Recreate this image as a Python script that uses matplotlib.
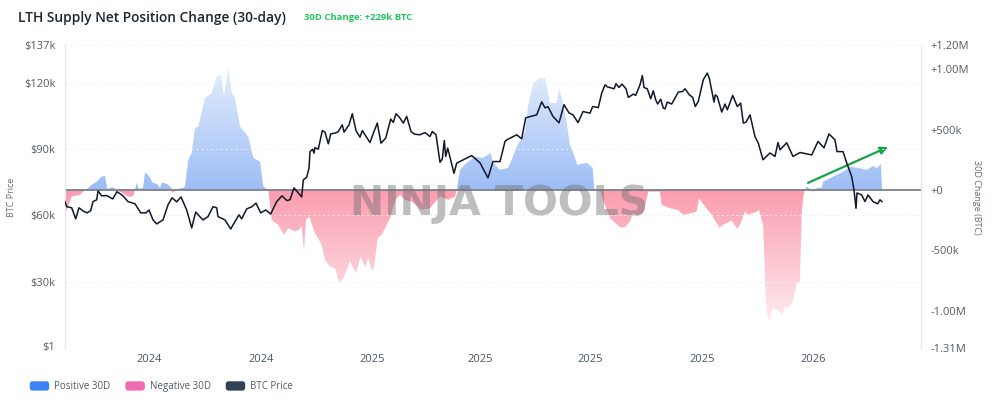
import numpy as np
import matplotlib
matplotlib.use("Agg")
import matplotlib.pyplot as plt
import matplotlib.patches as mpatches
from matplotlib.colors import LinearSegmentedColormap
from matplotlib.legend_handler import HandlerPatch

plt.rcParams['font.family'] = ['Open Sans', 'DejaVu Sans']

# Time position along the chart (chart units, start of series = 0)
price_t = [0,1.7,6.7,10.7,14,18,22,25.7,28,31.7,
           33,36.7,41.7,47.7,52,58,63,70,75.7,81,
           84,88,91.7,98,103,107,111.7,116,121.7,126.7,
           130.7,135,138,143,148,151.7,153,160,165.7,170,
           174,176.7,181.7,187,191,195.7,200.7,205.7,211.7,217,
           221.7,225,229,236.7,
           238.3,241.7,244,245,247.7,249,250,253.3,257.3,260,
           263.3,265.7,270,273,277.3,279,281.7,284,287.3,291,
           295,297.3,305,309,312.3,316,320.7,325.7,328.3,331,
           334.3,338.3,341.7,346,349.3,355,360,365,367.3,371,
           375,377.3,379.3,380.7,382.7,389,391.7,
           406.7,415,423,428,435,440,441.7,451.7,456.7,460.7,
           471.7,476.7,480,483,488,494,499,504,508,513,518,
           525,527.7,533.3,536.7,540,542.3,549,551,554,557,
           561,563.3,568.3,570.7,575,577.3,579,582.3,585.7,588.3,
           590.7,592.7,595.7,598.3,600,602.3,606.7,613.3,617.7,620,
           624.3,627.7,630.3,633.3,638.3,642.3,644.3,649,650.3,652.3,
           656.7,660,662.3,667.7,672.3,675.7,678.3,681,685,690,693.3,
           698,705,710,713,715,721.7,728,735,746.7,753,759,764,
           770,772,778,781.7,786.7,789,790.7,791,792,796.7,
           800,803,808,812.7,815,817]
price_k = [66.2,63.9,63.4,58.4,63.4,62,61.1,62.1,66.2,67,
           71,68.8,68.9,67.4,70.7,68.8,66.2,65.2,61.1,61.1,
           62.4,57.9,56.1,57.9,64.7,67.9,66.1,68.3,62.4,54.3,
           61.5,59.3,57.9,59.4,63.9,63.4,59.4,57.9,53.8,57.2,
           60.2,58.4,62.9,63.9,65.5,61.1,62.4,60.6,66.2,68.8,
           66.7,67,72.4,68.3,
           76,77.2,81.3,88.8,89.9,88.1,90.6,89.9,98.3,97.6,
           92.3,96.8,97.2,97.7,100.9,97.6,99.4,100.9,105.9,98.3,
           95.3,98.3,92.9,97.9,101.7,92.6,94.9,103.5,102,105.9,
           104.4,101.7,104.7,97.9,96.7,96.4,97.4,95.6,97.9,96.4,
           84,85.4,93.8,86.6,90.4,79,83.6,
           87,83.7,76.9,84.3,84.3,93.4,94.1,96.4,94.6,104.1,
           105.4,111.3,108.6,109.1,104.7,101.8,110,106.3,105.4,101.9,106.9,
           106.2,109.2,108.7,115.2,119,118.1,117.2,119.5,117.8,119.3,
           117.2,113.3,114.8,114.2,119,123.2,117.8,117.2,112.7,116.3,
           112.2,110.3,112.5,108.5,108.1,111.2,110.3,115.7,116,117.2,
           114.5,113.3,109.2,111.5,121.3,124.3,122,111.2,114.5,113.7,
           106.7,110.3,107.7,114.2,109.2,110.7,101.7,102.1,105.4,95.6,92.6,
           85.1,88.2,86.6,92.9,89.6,92.8,86.6,88.4,87.3,93.4,90.5,96.8,
           94.1,88.8,88.8,83.7,77.5,71.5,64.7,63.2,70.1,69.2,
           66.2,69.2,66.2,65.2,67,66.2]

change_t = [0,3,6.7,15,20,21,26.7,31.7,36.7,40,42.3,46.7,51.7,55,63,68,70,71.7,74,78,80,83,88,91.7,95,96.7,101.7,105,108,111.7,118,120,123.3,126.7,130,133.3,140,146.7,151.7,155.7,159,163.3,166.7,170,175,183.3,188.3,195,198.3,201.7,203.3,206.7,213.3,219,223.3,230,234,236.7,239,241,244.3,250,256.7,260,265,270,274.3,278.3,285,291,295.7,300,303.3,306.7,309,312.7,316.7,325,328.3,331.7,335,340,346.7,356.7,365,375,383.3,390,391.7,395,401.7,410,418,425.7,428,435,443,446.7,451.7,460,463,468.3,475,480,485,491.7,494.3,497.3,501.7,505,508.3,512.3,521.7,527.7,529.3,535,538,545,555,560,565,568,573,578.3,583.3,595,596.7,605,613,618.3,626.7,631.7,634,640,646.7,654.3,658.3,666.7,672.3,675.7,680,683.3,691.7,694,698.3,700,701.7,704.3,708.3,713.3,716.7,720,723.3,728.3,731.7,735,736.7,738.3,740,741.7,745,748.3,753.3,756.7,758.3,768.3,778.3,785,795,801.7,808.3,811.7,816,817]
change_k = [-207,-138,-56,-41,0,0,41,69,110,116,8,22,6,-14,-55,-55,0,58,8,17,143,124,58,50,17,61,50,28,-22,8,17,28,248,306,513,524,762,804,939,952,773,1008,804,762,524,441,265,234,28,6,0,-248,-290,-373,-317,-345,-331,-304,-511,-248,-220,-359,-455,-580,-635,-649,-773,-732,-594,-691,-553,-640,-566,-662,-649,-400,-373,-234,-138,-69,-41,-83,-97,-166,-152,-55,-83,-55,0,166,224,273,265,306,224,166,182,248,358,472,690,884,925,925,720,720,842,745,555,373,306,207,224,182,0,0,-83,-234,-311,-311,-262,-190,-220,-193,-14,-14,-124,-152,-166,-207,-193,-180,-69,-138,-207,-312,-290,-254,-323,-276,-180,-207,-180,-166,-304,-745,-1008,-1083,-980,-994,-1035,-966,-980,-911,-773,-759,-193,-55,0,28,8,-14,17,17,69,110,151,192,179,166,199,179,215,0]

x_tick_pos = [84,196,307,415,525,637,748]
x_tick_labels = ['2024','2024','2025','2025','2025','2025','2026']
price_ticks = [1,30,60,90,120,137]
price_labels = ['$1','$30k','$60k','$90k','$120k','$137k']
change_ticks = [-1310,-1000,-500,0,500,1000,1200]
change_labels = ['-1.31M','-1.00M','-500k','+0','+500k','+1.00M','+1.20M']

price_t, price_k = np.array(price_t), np.array(price_k)
change_t, change_k = np.array(change_t), np.array(change_k)

W, H = 1000, 409
fig = plt.figure(figsize=(W/100, H/100), dpi=100, facecolor='white')
L, R, T, B = 65, 921, 45, 348
rect = [L/W, 1-B/H, (R-L)/W, (B-T)/H]
ax_r = fig.add_axes(rect)
ax = ax_r.twinx()
XMAX = R-L

# Areas with vertical gradient on the right-hand scale
pos_cmap = LinearSegmentedColormap.from_list('p', ['#9dbdf6', '#e4edfc'])
neg_cmap = LinearSegmentedColormap.from_list('n', ['#fb9daf', '#fdeaee'])
grad = np.linspace(0, 1, 256).reshape(-1, 1)
pos_poly = ax_r.fill_between(change_t, 0, np.maximum(change_k, 0), color='none', lw=0)
neg_poly = ax_r.fill_between(change_t, 0, np.minimum(change_k, 0), color='none', lw=0)
pos_im = ax_r.imshow(grad, origin='lower', cmap=pos_cmap, aspect='auto', vmin=0, vmax=1,
                     extent=(0, XMAX, 0, change_k.max()), zorder=2)
neg_im = ax_r.imshow(grad, origin='upper', cmap=neg_cmap, aspect='auto', vmin=0, vmax=1,
                     extent=(0, XMAX, change_k.min(), 0), zorder=2)
pos_im.set_clip_path(pos_poly.get_paths()[0], ax_r.transData)
neg_im.set_clip_path(neg_poly.get_paths()[0], ax_r.transData)

ax_r.set_xlim(0, XMAX)
ax_r.set_ylim(-1310, 1200)
ax.set_xlim(0, XMAX)
ax.set_ylim(0, 137)

# Grid and zero line
for v in price_ticks[1:-1] + [137]:
    ax.axhline(v, color='#eceff3', lw=0.7, ls=(0, (2, 3)), zorder=1)
ax_r.axhline(0, color='#7d8086', lw=1.3, zorder=3)
ax.plot(price_t, price_k, color='#0f172a', lw=1.1, zorder=4, solid_joinstyle='round')

ax.set_zorder(ax_r.get_zorder()+1)
ax.patch.set_visible(False)

ax.yaxis.tick_left()
ax.yaxis.set_label_position('left')
ax_r.yaxis.tick_right()
ax_r.yaxis.set_label_position('right')
for a in (ax, ax_r):
    for s in ('top', 'bottom'):
        a.spines[s].set_visible(False)
    a.spines['left'].set_color('#e5e7eb')
    a.spines['right'].set_color('#e5e7eb')
ax.set_yticks(price_ticks, price_labels)
ax_r.set_yticks(change_ticks, change_labels)
ax.tick_params(axis='y', length=0, pad=7, labelsize=8, labelcolor='#555b64')
ax_r.tick_params(axis='y', length=0, pad=7, labelsize=8, labelcolor='#555b64')
ax_r.set_xticks(x_tick_pos, x_tick_labels)
ax_r.tick_params(axis='x', length=0, pad=4, labelsize=8, labelcolor='#4b5563')
ax.tick_params(axis='x', bottom=False, labelbottom=False)

fig.text(12/W, 1-197/H, 'BTC Price', rotation=90, ha='center', va='center', fontsize=6.5, color='#666c75')
fig.text(977/W, 1-197/H, '30D Change (BTC)', rotation=-90, ha='center', va='center', fontsize=6.5, color='#666c75')

# Title
fig.text(18/W, 1-18/H, 'LTH Supply Net Position Change (30-day)', fontsize=9.9, fontweight='semibold',
         color='#1f2430', ha='left', va='center')
fig.text(304/W, 1-18/H, '30D Change: +229k BTC', fontsize=6.8, fontweight='bold',
         color='#22c55e', ha='left', va='center')

# Hand-drawn trend arrow
ax_r.annotate('', xy=(823, 355), xytext=(743, 58),
              arrowprops=dict(arrowstyle='-|>,head_length=0.45,head_width=0.22', color='#16a34a', lw=1.6,
                              shrinkA=0, shrinkB=0), annotation_clip=False)

# Watermark
fig.text(499.5/W, 1-214.5/H, 'NINJA TOOLS', fontsize=29.5, fontweight='bold', family='DejaVu Sans',
         color='#6f7074', alpha=0.45, ha='center', va='baseline', zorder=10)

# Legend
class RoundHandler(HandlerPatch):
    def create_artists(self, legend, orig_handle, xd, yd, width, height, fontsize, trans):
        p = mpatches.FancyBboxPatch((-xd+1, -yd+1), width-2, height-2,
                                    boxstyle='round,pad=1,rounding_size=2',
                                    facecolor=orig_handle.get_facecolor(), edgecolor='none', transform=trans)
        return [p]

handles = [mpatches.Patch(color='#3b82f6'), mpatches.Patch(color='#f06bb0'), mpatches.Patch(color='#334155')]
leg = fig.legend(handles, ['Positive 30D', 'Negative 30D', 'BTC Price'], loc='lower left',
                 bbox_to_anchor=(21/W, 1-401/H), ncol=3, frameon=False, fontsize=7.0,
                 handlelength=2.0, handleheight=1.1, handletextpad=0.5, columnspacing=1.55,
                 handler_map={mpatches.Patch: RoundHandler()})
for t in leg.get_texts():
    t.set_color('#555b64')

fig.savefig('out.png', dpi=100, facecolor='white')
